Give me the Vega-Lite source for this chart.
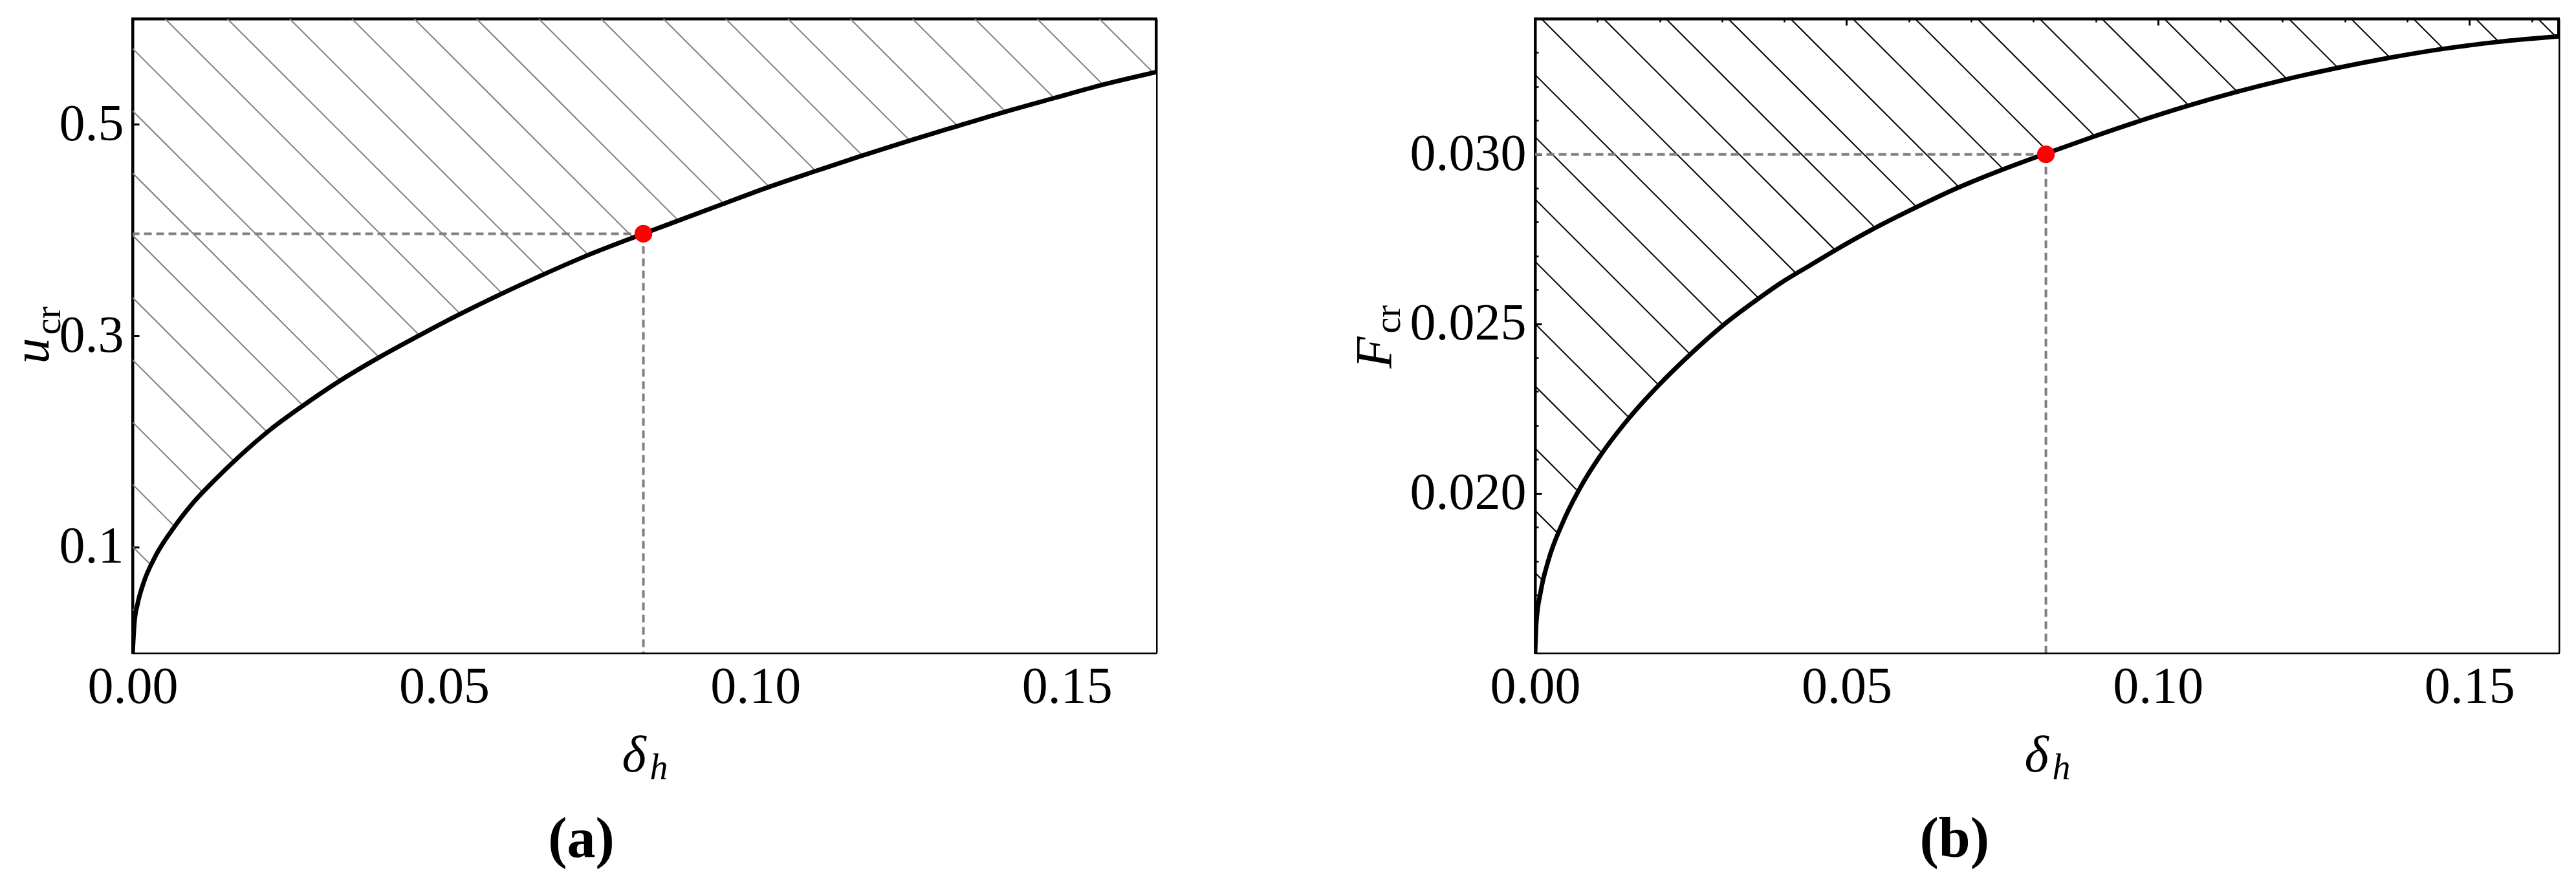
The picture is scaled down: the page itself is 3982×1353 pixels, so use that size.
{
  "$schema": "https://vega.github.io/schema/vega-lite/v6.json",
  "background": "white",
  "padding": {"left": 8, "top": 25, "right": 0, "bottom": 0},
  "autosize": {"type": "pad"},
  "spacing": 586,
  "bounds": "flush",
  "datasets": {
    "curveA": [
      {"d": 0, "u": 0}, {"d": 0.0003, "u": 0.029}, {"d": 0.0008, "u": 0.046}, {"d": 0.0017, "u": 0.065},
      {"d": 0.0036, "u": 0.0905}, {"d": 0.0064, "u": 0.1165}, {"d": 0.0096, "u": 0.1410}, {"d": 0.0133, "u": 0.1640},
      {"d": 0.0171, "u": 0.1855}, {"d": 0.0221, "u": 0.2110}, {"d": 0.0273, "u": 0.2335}, {"d": 0.0328, "u": 0.2555},
      {"d": 0.0393, "u": 0.2785}, {"d": 0.0458, "u": 0.2995}, {"d": 0.0521, "u": 0.3190}, {"d": 0.0591, "u": 0.3393},
      {"d": 0.0658, "u": 0.3575}, {"d": 0.0730, "u": 0.3760}, {"d": 0.0820, "u": 0.3965}, {"d": 0.0872, "u": 0.4080},
      {"d": 0.0946, "u": 0.4243}, {"d": 0.1018, "u": 0.4400}, {"d": 0.1095, "u": 0.4555}, {"d": 0.1168, "u": 0.4698},
      {"d": 0.1245, "u": 0.4842}, {"d": 0.1322, "u": 0.4980}, {"d": 0.1400, "u": 0.5118}, {"d": 0.1480, "u": 0.5250},
      {"d": 0.1557, "u": 0.5375}, {"d": 0.1643, "u": 0.5495}
    ],
    "hatchA": [
      {"x": -0.0948, "y": 0.6, "x2": 0.0070, "y2": 0}, {"x": -0.0848, "y": 0.6, "x2": 0.0170, "y2": 0},
      {"x": -0.0748, "y": 0.6, "x2": 0.0270, "y2": 0}, {"x": -0.0648, "y": 0.6, "x2": 0.0370, "y2": 0},
      {"x": -0.0548, "y": 0.6, "x2": 0.0470, "y2": 0}, {"x": -0.0448, "y": 0.6, "x2": 0.0570, "y2": 0},
      {"x": -0.0348, "y": 0.6, "x2": 0.0670, "y2": 0}, {"x": -0.0248, "y": 0.6, "x2": 0.0770, "y2": 0},
      {"x": -0.0148, "y": 0.6, "x2": 0.0870, "y2": 0}, {"x": -0.0048, "y": 0.6, "x2": 0.0970, "y2": 0},
      {"x": 0.0052, "y": 0.6, "x2": 0.1070, "y2": 0}, {"x": 0.0152, "y": 0.6, "x2": 0.1170, "y2": 0},
      {"x": 0.0252, "y": 0.6, "x2": 0.1270, "y2": 0}, {"x": 0.0352, "y": 0.6, "x2": 0.1370, "y2": 0},
      {"x": 0.0452, "y": 0.6, "x2": 0.1470, "y2": 0}, {"x": 0.0552, "y": 0.6, "x2": 0.1570, "y2": 0},
      {"x": 0.0652, "y": 0.6, "x2": 0.1670, "y2": 0}, {"x": 0.0752, "y": 0.6, "x2": 0.1770, "y2": 0},
      {"x": 0.0852, "y": 0.6, "x2": 0.1870, "y2": 0}, {"x": 0.0952, "y": 0.6, "x2": 0.1970, "y2": 0},
      {"x": 0.1052, "y": 0.6, "x2": 0.2070, "y2": 0}, {"x": 0.1152, "y": 0.6, "x2": 0.2170, "y2": 0},
      {"x": 0.1252, "y": 0.6, "x2": 0.2270, "y2": 0}, {"x": 0.1352, "y": 0.6, "x2": 0.2370, "y2": 0},
      {"x": 0.1452, "y": 0.6, "x2": 0.2470, "y2": 0}, {"x": 0.1552, "y": 0.6, "x2": 0.2570, "y2": 0}
    ],
    "pointA": [{"d": 0.082, "u": 0.3965}],
    "curveB": [
      {"d": 0, "F": 0.0153}, {"d": 0.0002, "F": 0.0162}, {"d": 0.0009, "F": 0.0171}, {"d": 0.0021, "F": 0.0180},
      {"d": 0.0044, "F": 0.01912}, {"d": 0.0072, "F": 0.02015}, {"d": 0.0104, "F": 0.02109}, {"d": 0.0150, "F": 0.02220},
      {"d": 0.0197, "F": 0.02316}, {"d": 0.0248, "F": 0.02408}, {"d": 0.0308, "F": 0.02505}, {"d": 0.0359, "F": 0.02575},
      {"d": 0.0395, "F": 0.02621}, {"d": 0.0442, "F": 0.02673}, {"d": 0.0480, "F": 0.02715}, {"d": 0.0543, "F": 0.02780},
      {"d": 0.0610, "F": 0.02842}, {"d": 0.0677, "F": 0.02900}, {"d": 0.0749, "F": 0.02954}, {"d": 0.0820, "F": 0.03002},
      {"d": 0.0893, "F": 0.03050}, {"d": 0.0970, "F": 0.03098}, {"d": 0.1046, "F": 0.03142}, {"d": 0.1126, "F": 0.03184},
      {"d": 0.1205, "F": 0.03221}, {"d": 0.1288, "F": 0.03255}, {"d": 0.1372, "F": 0.03285}, {"d": 0.1457, "F": 0.03311},
      {"d": 0.1547, "F": 0.03332}, {"d": 0.1643, "F": 0.03348}
    ],
    "hatchB": [
      {"x": -0.099, "y": 0.034, "x2": 0.0028, "y2": 0.0153}, {"x": -0.089, "y": 0.034, "x2": 0.0128, "y2": 0.0153},
      {"x": -0.079, "y": 0.034, "x2": 0.0228, "y2": 0.0153}, {"x": -0.069, "y": 0.034, "x2": 0.0328, "y2": 0.0153},
      {"x": -0.059, "y": 0.034, "x2": 0.0428, "y2": 0.0153}, {"x": -0.049, "y": 0.034, "x2": 0.0528, "y2": 0.0153},
      {"x": -0.039, "y": 0.034, "x2": 0.0628, "y2": 0.0153}, {"x": -0.029, "y": 0.034, "x2": 0.0728, "y2": 0.0153},
      {"x": -0.019, "y": 0.034, "x2": 0.0828, "y2": 0.0153}, {"x": -0.009, "y": 0.034, "x2": 0.0928, "y2": 0.0153},
      {"x": 0.001, "y": 0.034, "x2": 0.1028, "y2": 0.0153}, {"x": 0.011, "y": 0.034, "x2": 0.1128, "y2": 0.0153},
      {"x": 0.021, "y": 0.034, "x2": 0.1228, "y2": 0.0153}, {"x": 0.031, "y": 0.034, "x2": 0.1328, "y2": 0.0153},
      {"x": 0.041, "y": 0.034, "x2": 0.1428, "y2": 0.0153}, {"x": 0.051, "y": 0.034, "x2": 0.1528, "y2": 0.0153},
      {"x": 0.061, "y": 0.034, "x2": 0.1628, "y2": 0.0153}, {"x": 0.071, "y": 0.034, "x2": 0.1728, "y2": 0.0153},
      {"x": 0.081, "y": 0.034, "x2": 0.1828, "y2": 0.0153}, {"x": 0.091, "y": 0.034, "x2": 0.1928, "y2": 0.0153},
      {"x": 0.101, "y": 0.034, "x2": 0.2028, "y2": 0.0153}, {"x": 0.111, "y": 0.034, "x2": 0.2128, "y2": 0.0153},
      {"x": 0.121, "y": 0.034, "x2": 0.2228, "y2": 0.0153}, {"x": 0.131, "y": 0.034, "x2": 0.2328, "y2": 0.0153},
      {"x": 0.141, "y": 0.034, "x2": 0.2428, "y2": 0.0153}, {"x": 0.151, "y": 0.034, "x2": 0.2528, "y2": 0.0153},
      {"x": 0.161, "y": 0.034, "x2": 0.2628, "y2": 0.0153}
    ],
    "pointB": [{"d": 0.082, "F": 0.030}]
  },
  "hconcat": [
    {
      "width": 1582,
      "height": 980,
      "title": {"text": "(a)", "orient": "bottom", "anchor": "middle", "frame": "bounds", "offset": 40, "fontSize": 88, "font": "Liberation Serif", "fontWeight": "bold", "color": "black"},
      "resolve": {"axis": {"x": "independent", "y": "independent"}},
      "layer": [
        {
          "data": {"name": "hatchA"},
          "mark": {"type": "rule", "clip": true, "color": "#808080", "strokeWidth": 2},
          "encoding": {
            "x": {"field": "x", "type": "quantitative", "scale": {"domain": [0, 0.1643], "nice": false, "zero": false},
              "axis": {"orient": "bottom", "values": [0, 0.05, 0.1, 0.15], "format": ".2f", "tickSize": -10, "tickWidth": 3, "labelPadding": 24, "domain": true, "domainWidth": 4,
                "title": "δ", "titleFontStyle": "italic", "titleFontSize": 80, "titleX": 756, "titleY": 183, "titleAlign": "left", "titleBaseline": "alphabetic", "titleAngle": 0}},
            "y": {"field": "y", "type": "quantitative", "scale": {"domain": [0, 0.6], "nice": false, "zero": false},
              "axis": {"orient": "left", "values": [0.1, 0.3, 0.5], "format": ".1f", "tickSize": -10, "tickWidth": 3, "labelPadding": 24, "domain": true, "domainWidth": 4,
                "title": "u", "titleFontStyle": "italic", "titleFontSize": 80, "titleX": -131, "titleY": 533, "titleAngle": 270, "titleAlign": "left", "titleBaseline": "alphabetic"}},
            "x2": {"field": "x2"},
            "y2": {"field": "y2"}
          }
        },
        {
          "data": {"name": "curveA"},
          "mark": {"type": "area", "clip": true, "color": "white", "opacity": 1, "interpolate": "monotone"},
          "encoding": {
            "x": {"field": "d", "type": "quantitative",
              "axis": {"orient": "bottom", "values": [0.01, 0.02, 0.03, 0.04, 0.06, 0.07, 0.08, 0.09, 0.11, 0.12, 0.13, 0.14, 0.16], "labels": false, "tickSize": -5, "tickWidth": 2.5, "domain": false,
                "title": "h", "titleFontStyle": "italic", "titleFontSize": 56, "titleX": 799, "titleY": 195, "titleAlign": "left", "titleBaseline": "alphabetic", "titleAngle": 0}},
            "y": {"field": "u", "type": "quantitative",
              "axis": {"orient": "left", "labels": false, "ticks": false, "domain": false,
                "title": "cr", "titleFontStyle": "normal", "titleFontSize": 56, "titleX": -113, "titleY": 488, "titleAngle": 270, "titleAlign": "left", "titleBaseline": "alphabetic"}}
          }
        },
        {
          "data": {"name": "pointA"},
          "mark": {"type": "rule", "clip": true, "color": "#808080", "strokeWidth": 4, "strokeDash": [12, 7]},
          "encoding": {
            "x": {"field": "d", "type": "quantitative", "axis": null},
            "x2": {"datum": 0},
            "y": {"field": "u", "type": "quantitative", "axis": null}
          }
        },
        {
          "data": {"name": "pointA"},
          "mark": {"type": "rule", "clip": true, "color": "#808080", "strokeWidth": 4, "strokeDash": [12, 7]},
          "encoding": {
            "x": {"field": "d", "type": "quantitative", "axis": null},
            "y": {"field": "u", "type": "quantitative", "axis": null},
            "y2": {"datum": 0}
          }
        },
        {
          "data": {"name": "curveA"},
          "mark": {"type": "line", "clip": true, "color": "black", "strokeWidth": 7, "interpolate": "monotone"},
          "encoding": {
            "x": {"field": "d", "type": "quantitative", "axis": {"orient": "top", "labels": false, "ticks": false, "domain": true, "domainWidth": 4, "title": null}},
            "y": {"field": "u", "type": "quantitative", "axis": {"orient": "right", "labels": false, "ticks": false, "domain": true, "domainWidth": 4, "title": null}}
          }
        },
        {
          "data": {"name": "pointA"},
          "mark": {"type": "circle", "color": "#ff0000", "opacity": 1, "size": 755},
          "encoding": {
            "x": {"field": "d", "type": "quantitative", "axis": null},
            "y": {"field": "u", "type": "quantitative", "axis": null}
          }
        }
      ]
    },
    {
      "width": 1582,
      "height": 980,
      "title": {"text": "(b)", "orient": "bottom", "anchor": "middle", "frame": "bounds", "offset": 40, "fontSize": 88, "font": "Liberation Serif", "fontWeight": "bold", "color": "black"},
      "resolve": {"axis": {"x": "independent", "y": "independent"}},
      "layer": [
        {
          "data": {"name": "hatchB"},
          "mark": {"type": "rule", "clip": true, "color": "black", "strokeWidth": 2},
          "encoding": {
            "x": {"field": "x", "type": "quantitative", "scale": {"domain": [0, 0.1643], "nice": false, "zero": false},
              "axis": {"orient": "bottom", "values": [0, 0.05, 0.1, 0.15], "format": ".2f", "tickSize": -10, "tickWidth": 3, "labelPadding": 24, "domain": true, "domainWidth": 4,
                "title": "δ", "titleFontStyle": "italic", "titleFontSize": 80, "titleX": 756, "titleY": 183, "titleAlign": "left", "titleBaseline": "alphabetic", "titleAngle": 0}},
            "y": {"field": "y", "type": "quantitative", "scale": {"domain": [0.0153, 0.034], "nice": false, "zero": false},
              "axis": {"orient": "left", "values": [0.02, 0.025, 0.03], "format": ".3f", "tickSize": -10, "tickWidth": 3, "labelPadding": 24, "domain": true, "domainWidth": 4,
                "title": "F", "titleFontStyle": "italic", "titleFontSize": 80, "titleX": -223, "titleY": 540, "titleAngle": 270, "titleAlign": "left", "titleBaseline": "alphabetic"}},
            "x2": {"field": "x2"},
            "y2": {"field": "y2"}
          }
        },
        {
          "data": {"name": "curveB"},
          "mark": {"type": "area", "clip": true, "color": "white", "opacity": 1, "interpolate": "monotone"},
          "encoding": {
            "x": {"field": "d", "type": "quantitative",
              "axis": {"orient": "bottom", "values": [0.01, 0.02, 0.03, 0.04, 0.06, 0.07, 0.08, 0.09, 0.11, 0.12, 0.13, 0.14, 0.16], "labels": false, "tickSize": -5, "tickWidth": 2.5, "domain": false,
                "title": "h", "titleFontStyle": "italic", "titleFontSize": 56, "titleX": 799, "titleY": 195, "titleAlign": "left", "titleBaseline": "alphabetic", "titleAngle": 0}},
            "y": {"field": "F", "type": "quantitative",
              "axis": {"orient": "left", "values": [0.016, 0.017, 0.018, 0.019, 0.021, 0.022, 0.023, 0.024, 0.026, 0.027, 0.028, 0.029, 0.031, 0.032, 0.033], "labels": false, "tickSize": -5, "tickWidth": 2.5, "domain": false,
                "title": "cr", "titleFontStyle": "normal", "titleFontSize": 56, "titleX": -210, "titleY": 486, "titleAngle": 270, "titleAlign": "left", "titleBaseline": "alphabetic"}}
          }
        },
        {
          "data": {"name": "pointB"},
          "mark": {"type": "rule", "clip": true, "color": "#808080", "strokeWidth": 4, "strokeDash": [12, 7]},
          "encoding": {
            "x": {"field": "d", "type": "quantitative", "axis": null},
            "x2": {"datum": 0},
            "y": {"field": "F", "type": "quantitative", "axis": null}
          }
        },
        {
          "data": {"name": "pointB"},
          "mark": {"type": "rule", "clip": true, "color": "#808080", "strokeWidth": 4, "strokeDash": [12, 7]},
          "encoding": {
            "x": {"field": "d", "type": "quantitative", "axis": null},
            "y": {"field": "F", "type": "quantitative", "axis": null},
            "y2": {"datum": 0.0153}
          }
        },
        {
          "data": {"name": "curveB"},
          "mark": {"type": "line", "clip": true, "color": "black", "strokeWidth": 7, "interpolate": "monotone"},
          "encoding": {
            "x": {"field": "d", "type": "quantitative", "axis": {"orient": "top", "values": [0, 0.05, 0.1, 0.15], "labels": false, "tickSize": -10, "tickWidth": 3, "domain": true, "domainWidth": 4, "title": null}},
            "y": {"field": "F", "type": "quantitative", "axis": {"orient": "right", "values": [0.02, 0.025, 0.03], "labels": false, "tickSize": -10, "tickWidth": 3, "domain": true, "domainWidth": 4, "title": null}}
          }
        },
        {
          "data": {"name": "pointB"},
          "mark": {"type": "circle", "color": "#ff0000", "opacity": 1, "size": 755},
          "encoding": {
            "x": {"field": "d", "type": "quantitative", "axis": {"orient": "top", "values": [0.01, 0.02, 0.03, 0.04, 0.06, 0.07, 0.08, 0.09, 0.11, 0.12, 0.13, 0.14, 0.16], "labels": false, "tickSize": -5, "tickWidth": 2.5, "domain": false, "title": null}},
            "y": {"field": "F", "type": "quantitative", "axis": {"orient": "right", "values": [0.016, 0.017, 0.018, 0.019, 0.021, 0.022, 0.023, 0.024, 0.026, 0.027, 0.028, 0.029, 0.031, 0.032, 0.033], "labels": false, "tickSize": -5, "tickWidth": 2.5, "domain": false, "title": null}}
          }
        }
      ]
    }
  ],
  "config": {
    "view": {"stroke": "black", "strokeWidth": 4},
    "axis": {
      "labelFont": "Liberation Serif", "labelFontSize": 80, "labelColor": "black", "labelLimit": 0,
      "titleFont": "Liberation Serif", "titleColor": "black", "titleFontWeight": "normal", "titleLimit": 0,
      "grid": false, "tickColor": "black", "domainColor": "black",
      "labelFlush": false, "labelOverlap": false, "labelBound": false, "zindex": 1
    }
  }
}
